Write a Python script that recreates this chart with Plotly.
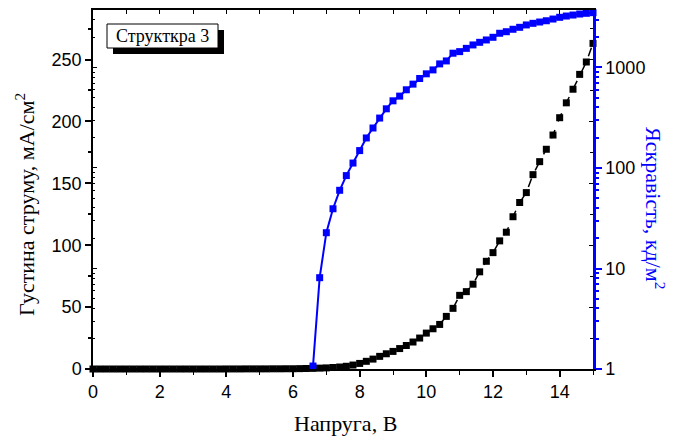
import numpy as np
import plotly.graph_objects as go

# ---- data ----
voltage = [round(0.2 * i, 1) for i in range(76)]  # 0 .. 15 V
current = [0.0, 0.0, 0.0, 0.0, 0.0, 0.0, 0.0, 0.0, 0.0, 0.0,
           0.0, 0.0, 0.0, 0.0, 0.0, 0.0, 0.0, 0.0, 0.0, 0.0,
           0.05, 0.05, 0.05, 0.1, 0.1, 0.1, 0.1, 0.15, 0.15, 0.2,
           0.2, 0.3, 0.4, 0.5, 0.7, 0.9, 1.2, 1.6, 2.2, 3.2,
           4.5, 6.2, 8.0, 10.2, 12.3, 14.2, 16.5, 19.0, 21.8, 25.0,
           29.0, 32.5, 36.0, 42.5, 49.0, 59.5, 62.5, 68.5, 78.5, 87.0,
           94.0, 103.5, 110.5, 123.0, 134.5, 142.5, 157.0, 167.5, 177.5, 189.0,
           203.0, 215.0, 226.0, 238.0, 248.0, 263.0]

lum_voltage = [round(6.6 + 0.2 * i, 1) for i in range(43)]  # 6.6 .. 15 V
luminance = [1.07, 8.1, 22.7, 39.3, 60, 84, 112, 149, 199, 250,
             314, 388, 466, 519, 600, 683, 777, 865, 946, 1086,
             1162, 1387, 1438, 1550, 1676, 1780, 1879, 1997, 2190, 2270,
             2400, 2510, 2650, 2750, 2834, 2918, 3034, 3156, 3250, 3326,
             3404, 3460, 3510]

x_title = "Напруга, В"
y_title = "Густина струму, мА/см<sup>2</sup>"
y2_title = "Яскравість, кд/м<sup>2</sup>"
legend_text = "Структкра 3"

# ---- layout constants ----
W, H = 678, 440
L, R, T, B = 93, 85, 10, 71
pw, ph = W - L - R, H - T - B

def px(xp):
    return (xp - L) / pw

def py(yp):
    return (H - B - yp) / ph

TICKFONT = dict(family="Liberation Sans, Arial", size=18, color="black")
TITLEFONT = "Liberation Serif, Times New Roman"

fig = go.Figure()

fig.add_trace(go.Scatter(
    x=voltage, y=current, mode="lines+markers",
    line=dict(color="black", width=1.5, dash="dash"),
    marker=dict(symbol="square", size=7, color="black"),
    xaxis="x", yaxis="y", showlegend=False, cliponaxis=False))

fig.add_trace(go.Scatter(
    x=lum_voltage, y=luminance, mode="lines+markers",
    line=dict(color="#0000ff", width=2),
    marker=dict(symbol="square", size=7, color="#0000ff"),
    xaxis="x", yaxis="y2", showlegend=False, cliponaxis=False))

# dummy traces for helper axes
fig.add_trace(go.Scatter(x=[None], y=[None], xaxis="x2", yaxis="y", showlegend=False))
fig.add_trace(go.Scatter(x=[None], y=[None], xaxis="x", yaxis="y3", showlegend=False))
fig.add_trace(go.Scatter(x=[None], y=[None], xaxis="x", yaxis="y4", showlegend=False))

common = dict(showgrid=False, zeroline=False)
minor_log = [m * 10 ** d for d in range(4) for m in range(2, 10)]

fig.update_layout(
    width=W, height=H,
    margin=dict(l=L, r=R, t=T, b=B, pad=0),
    paper_bgcolor="white", plot_bgcolor="white",
    xaxis=dict(range=[0, 15], dtick=2, ticks="outside", ticklen=6, tickwidth=1.5,
               tickcolor="black", showline=True, linecolor="black", linewidth=1.5,
               tickfont=TICKFONT, minor=dict(dtick=1, ticks="outside", ticklen=4,
                                             tickcolor="black", tickwidth=1),
               **common),
    xaxis2=dict(range=[0, 15], overlaying="x", side="top", anchor="y", dtick=1,
                ticks="inside", ticklen=4, tickcolor="black", showticklabels=False,
                showline=True, linecolor="black", linewidth=1.5, **common),
    yaxis=dict(range=[0, 290], dtick=50, ticks="outside", ticklen=6, tickwidth=1.5,
               tickcolor="black", showline=True, linecolor="black", linewidth=1.5,
               tickfont=TICKFONT, minor=dict(dtick=25, ticks="outside", ticklen=3,
                                             tickcolor="black"),
               **common),
    yaxis2=dict(type="log", range=[0, 3.572], overlaying="y", side="right", anchor="x",
                tickvals=[1, 10, 100, 1000], ticktext=["1", "10", "100", "1000"],
                ticks="outside", ticklen=6, tickwidth=1.5, tickcolor="#0000ff",
                showline=True, linecolor="#0000ff", linewidth=2.5, tickfont=TICKFONT,
                minor=dict(ticks="outside", ticklen=3, tickcolor="#0000ff",
                           tickvals=minor_log),
                **common),
    yaxis3=dict(range=[0, 290], overlaying="y", side="right", anchor="x", dtick=50,
                ticks="inside", ticklen=4, tickcolor="black", showticklabels=False,
                showline=False, minor=dict(dtick=25, ticks="inside", ticklen=3,
                                           tickcolor="black"), **common),
    yaxis4=dict(type="log", range=[0, 3.572], overlaying="y", side="left", anchor="x",
                tickvals=[1, 10, 100, 1000], ticks="inside", ticklen=4,
                tickcolor="black", showticklabels=False, showline=False,
                minor=dict(ticks="inside", ticklen=2, tickcolor="black",
                           tickvals=minor_log),
                **common),
)

# axis titles as annotations
fig.add_annotation(text=x_title, xref="paper", yref="paper", x=px(345), y=py(423),
                   xanchor="center", yanchor="middle", showarrow=False,
                   font=dict(family=TITLEFONT, size=22, color="black"))
fig.add_annotation(text=y_title, xref="paper", yref="paper", x=px(25), y=py(205),
                   xanchor="center", yanchor="middle", textangle=-90, showarrow=False,
                   font=dict(family=TITLEFONT, size=22, color="black"))
fig.add_annotation(text=y2_title, xref="paper", yref="paper", x=px(655), y=py(208),
                   xanchor="center", yanchor="middle", textangle=90, showarrow=False,
                   font=dict(family=TITLEFONT, size=22, color="#0000ff"))

# legend box with shadow
fig.add_shape(type="rect", xref="paper", yref="paper",
              x0=px(113), x1=px(224), y0=py(54), y1=py(30),
              fillcolor="black", line=dict(width=0), layer="above")
fig.add_shape(type="rect", xref="paper", yref="paper",
              x0=px(107), x1=px(218), y0=py(48), y1=py(24),
              fillcolor="white", line=dict(color="black", width=1), layer="above")
fig.add_annotation(text=legend_text, xref="paper", yref="paper",
                   x=px(162.5), y=py(36), xanchor="center", yanchor="middle",
                   showarrow=False,
                   font=dict(family=TITLEFONT, size=18, color="black"))

fig.write_html("out.html")
